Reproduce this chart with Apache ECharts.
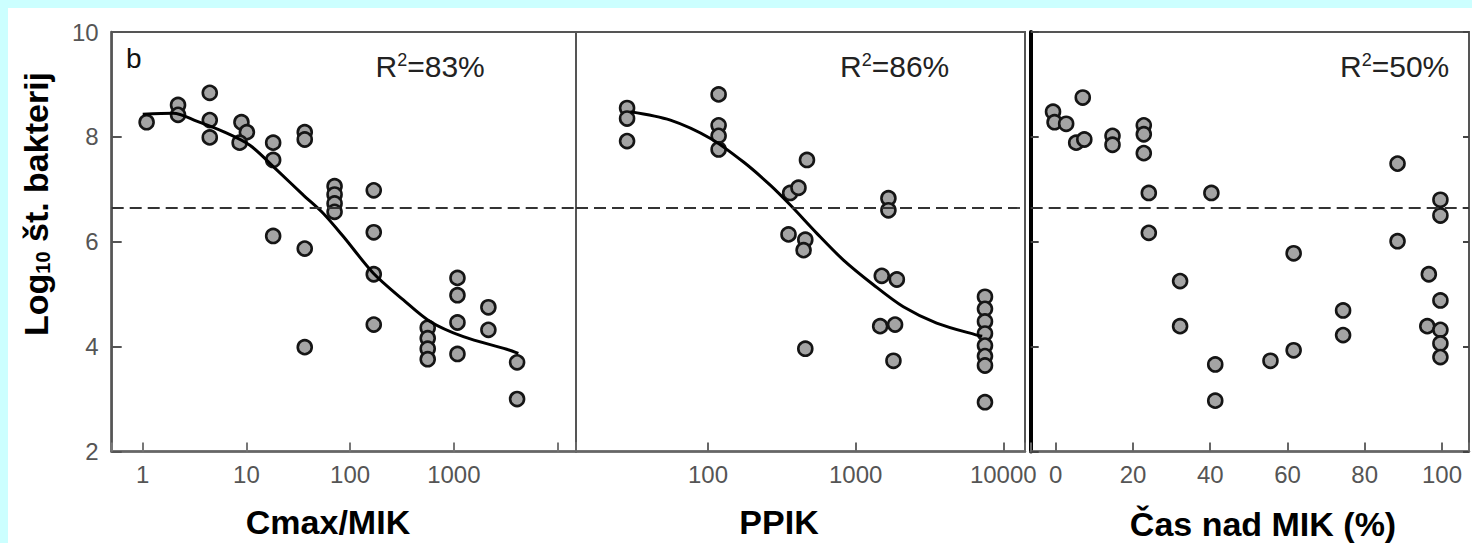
<!DOCTYPE html>
<html>
<head>
<meta charset="utf-8">
<script src="https://cdn.jsdelivr.net/npm/echarts@6/dist/echarts.min.js"></script>
<style>
  html, body { margin: 0; padding: 0; background: #ccffff; }
  #bg { position: absolute; left: 8px; top: 8px; width: 1464px; height: 535px; background: #ffffff; }
  #chart { position: absolute; left: 0; top: 0; width: 1472px; height: 543px; }
</style>
</head>
<body>
<div id="bg"></div>
<div id="chart"></div>
<script>
// ---------- data ----------
const yTickLabels = [2, 4, 6, 8, 10];
const cmaxTickLabels = [1, 10, 100, 1000];
const ppikTickLabels = [100, 1000, 10000];
const timeTickLabels = [0, 20, 40, 60, 80, 100];

const thresholdValue = 6.65;   // dashed reference line (log10 count)
const rSquaredLabels = ['83%', '86%', '50%'];

// Panel 1: Cmax/MIK (x) vs log10 bacteria (y)
const cmaxPoints = [
  [1.09, 8.28], [2.19, 8.61], [2.19, 8.42],
  [4.43, 8.84], [4.43, 8.32], [4.43, 7.99],
  [8.95, 8.28], [10.1, 8.09], [8.6, 7.89],
  [18.1, 7.89], [18.1, 7.56], [18.1, 6.11],
  [36.5, 8.09], [36.5, 7.95], [36.5, 5.87], [36.5, 3.99],
  [70.8, 7.06], [70.8, 6.90], [70.8, 6.73], [70.8, 6.57],
  [169, 6.98], [169, 6.18], [169, 5.38], [169, 4.42],
  [560, 4.36], [560, 4.16], [560, 3.96], [560, 3.76],
  [1084, 5.31], [1084, 4.98], [1084, 4.46], [1084, 3.86],
  [2154, 4.75], [2154, 4.32],
  [4074, 3.70], [4074, 3.00]
];
const cmaxFit = [
  [1.0, 8.43], [1.97, 8.45], [3.31, 8.30], [5.99, 8.10], [10.8, 7.84],
  [19.6, 7.37], [35.4, 6.89], [55.2, 6.54], [86, 6.10], [167.5, 5.40],
  [326, 4.89], [589, 4.48], [1236, 4.19], [3236, 3.95], [4190, 3.87]
];

// Panel 2: PPIK
const ppikPoints = [
  [28.3, 8.55], [28.3, 8.35], [28.3, 7.92],
  [118, 8.81], [118, 8.22], [118, 8.02], [118, 7.76],
  [468, 7.56], [360, 6.93], [410, 7.03],
  [351, 6.14], [456, 6.04], [444, 5.84], [456, 3.96],
  [1667, 6.83], [1667, 6.60],
  [1503, 5.35], [1901, 5.28], [1466, 4.39], [1849, 4.42], [1803, 3.73],
  [7516, 4.95], [7516, 4.72], [7516, 4.48], [7516, 4.25],
  [7516, 4.02], [7516, 3.82], [7516, 3.64], [7516, 2.94]
];
const ppikFit = [
  [29.8, 8.48], [55.6, 8.32], [104, 7.97], [174, 7.52], [264, 7.08],
  [361, 6.70], [546, 6.16], [827, 5.65], [1318, 5.18], [2103, 4.76],
  [3537, 4.45], [6607, 4.22], [7200, 4.20]
];

// Panel 3: Time above MIC (%)
const timePoints = [
  [-0.7, 8.48], [-0.3, 8.28], [2.7, 8.25], [7.0, 8.75], [5.3, 7.89], [7.4, 7.95],
  [14.7, 8.02], [14.7, 7.85], [22.8, 8.22], [22.8, 8.05], [22.8, 7.69],
  [24.1, 6.93], [24.1, 6.17], [32.2, 5.25], [32.2, 4.39],
  [40.3, 6.93], [41.3, 3.66], [41.3, 2.97],
  [55.6, 3.73], [61.6, 5.78], [61.6, 3.93],
  [74.4, 4.69], [74.4, 4.22],
  [88.5, 7.49], [88.5, 6.01],
  [96.6, 5.38], [96.2, 4.39],
  [99.6, 6.80], [99.6, 6.50], [99.6, 4.88], [99.6, 4.32], [99.6, 4.06], [99.6, 3.80]
];

// ---------- chart ----------
const F = '"Liberation Sans", Arial, sans-serif';

function fmt(list) {
  return function (v) {
    for (const t of list) {
      if (Math.abs(v - t) <= 1e-6 * Math.max(1, Math.abs(t))) return String(t);
    }
    return '';
  };
}

const tickLabel = { fontSize: 24, color: '#555', fontFamily: F };
const gridTop = 32, gridH = 419.5;

const chart = echarts.init(document.getElementById('chart'), null, { renderer: 'svg' });

const scatterStyle = {
  type: 'scatter',
  symbol: 'circle',
  symbolSize: 14,
  itemStyle: { color: '#a4a4a4', borderColor: '#151515', borderWidth: 2.6, opacity: 1 },
  z: 3
};
const fitStyle = {
  type: 'line',
  smooth: 0.3,
  showSymbol: false,
  symbol: 'none',
  lineStyle: { color: '#000', width: 3 },
  z: 4
};
const dashLine = {
  silent: true,
  symbol: ['none', 'none'],
  label: { show: false },
  lineStyle: { type: [12, 6], color: '#333', width: 1.8 },
  data: [{ yAxis: thresholdValue }]
};

function rText(x, label) {
  return {
    type: 'text', x: x, y: 66,
    style: {
      text: '{a|R}{s|2}{a|=' + label + '}',
      align: 'left', verticalAlign: 'middle',
      rich: {
        a: { fontSize: 30, fontFamily: F, fill: '#222' },
        s: { fontSize: 18, fontFamily: F, fill: '#222', verticalAlign: 'top' }
      }
    }
  };
}

const option = {
  animation: false,
  backgroundColor: 'transparent',
  grid: [
    { left: 111.7, top: gridTop, width: 464.3, height: gridH, show: true, borderColor: '#555', borderWidth: 2 },
    { left: 576, top: gridTop, width: 449, height: gridH, show: true, borderColor: '#555', borderWidth: 2 },
    { left: 1030.7, top: gridTop, width: 443.3, height: gridH, show: true, borderColor: '#555', borderWidth: 2 }
  ],
  xAxis: [
    {
      gridIndex: 0, type: 'log', logBase: 10, min: 0.502, max: 15070,
      axisLine: { onZero: false, lineStyle: { color: '#666', width: 2.5 } },
      axisTick: { inside: true, length: 9, lineStyle: { color: '#777', width: 2 } },
      axisLabel: Object.assign({ margin: 11, formatter: fmt(cmaxTickLabels) }, tickLabel),
      splitLine: { show: false }, minorTick: { show: false }
    },
    {
      gridIndex: 1, type: 'log', logBase: 10, min: 12.76, max: 14030,
      axisLine: { onZero: false, lineStyle: { color: '#666', width: 2.5 } },
      axisTick: { inside: true, length: 9, lineStyle: { color: '#666', width: 2 } },
      axisLabel: Object.assign({ margin: 11, formatter: fmt(ppikTickLabels) }, tickLabel),
      splitLine: { show: false }, minorTick: { show: false }
    },
    {
      gridIndex: 2, type: 'value', min: -6.48, max: 107, splitNumber: 5,
      axisLine: { onZero: false, lineStyle: { color: '#666', width: 2.5 } },
      axisTick: { inside: true, length: 9, lineStyle: { color: '#666', width: 2 } },
      axisLabel: Object.assign({ margin: 11, formatter: fmt(timeTickLabels) }, tickLabel),
      splitLine: { show: false }
    }
  ],
  yAxis: [
    {
      gridIndex: 0, type: 'value', min: 2, max: 10, interval: 2,
      axisLine: { show: true, onZero: false, lineStyle: { color: '#555', width: 2.5 } },
      axisTick: { show: true, inside: true, length: 10, lineStyle: { color: '#555', width: 2 } },
      axisLabel: Object.assign({ margin: 13, formatter: fmt(yTickLabels) }, tickLabel),
      splitLine: { show: false }
    },
    {
      gridIndex: 1, type: 'value', min: 2, max: 10, interval: 2,
      axisLine: { show: true, onZero: false, lineStyle: { color: '#555', width: 2 } },
      axisTick: { show: false }, axisLabel: { show: false }, splitLine: { show: false }
    },
    {
      gridIndex: 2, type: 'value', min: 2, max: 10, interval: 2,
      axisLine: { show: true, onZero: false, lineStyle: { color: '#000', width: 4 } },
      axisTick: { show: true, inside: true, length: 8, lineStyle: { color: '#444', width: 2 } },
      axisLabel: { show: false }, splitLine: { show: false }
    },
    {
      gridIndex: 2, type: 'value', position: 'right', min: 2, max: 10, interval: 2,
      axisLine: { show: false, onZero: false },
      axisTick: { show: true, inside: true, length: 6, lineStyle: { color: '#444', width: 2 } },
      axisLabel: { show: false }, splitLine: { show: false }
    }
  ],
  series: [
    Object.assign({}, scatterStyle, { xAxisIndex: 0, yAxisIndex: 0, data: cmaxPoints, markLine: dashLine }),
    Object.assign({}, fitStyle, { xAxisIndex: 0, yAxisIndex: 0, data: cmaxFit }),
    Object.assign({}, scatterStyle, { xAxisIndex: 1, yAxisIndex: 1, data: ppikPoints, markLine: dashLine }),
    Object.assign({}, fitStyle, { xAxisIndex: 1, yAxisIndex: 1, data: ppikFit }),
    Object.assign({}, scatterStyle, { xAxisIndex: 2, yAxisIndex: 2, data: timePoints, markLine: dashLine })
  ],
  graphic: [
    {
      type: 'text', x: 36, y: 204, rotation: Math.PI / 2,
      style: {
        text: '{a|Log}{s|10}{a| št. bakterij}',
        align: 'center', verticalAlign: 'middle',
        rich: {
          a: { fontSize: 34, fontWeight: 'bold', fontFamily: F, fill: '#000' },
          s: { fontSize: 20, fontWeight: 'bold', fontFamily: F, fill: '#000', verticalAlign: 'bottom' }
        }
      }
    },
    { type: 'text', x: 126, y: 58, style: { text: 'b', fontSize: 28, fontFamily: F, fill: '#111', align: 'left', verticalAlign: 'middle' } },
    rText(375.5, rSquaredLabels[0]),
    rText(840, rSquaredLabels[1]),
    rText(1340, rSquaredLabels[2]),
    { type: 'text', x: 328, y: 522, style: { text: 'Cmax/MIK', fontSize: 34, fontWeight: 'bold', fontFamily: F, fill: '#000', align: 'center', verticalAlign: 'middle' } },
    { type: 'text', x: 779, y: 522, style: { text: 'PPIK', fontSize: 34, fontWeight: 'bold', fontFamily: F, fill: '#000', align: 'center', verticalAlign: 'middle' } },
    { type: 'text', x: 1263, y: 524, style: { text: 'Čas nad MIK (%)', fontSize: 34, fontWeight: 'bold', fontFamily: F, fill: '#000', align: 'center', verticalAlign: 'middle' } }
  ]
};

chart.setOption(option);
</script>
</body>
</html>
